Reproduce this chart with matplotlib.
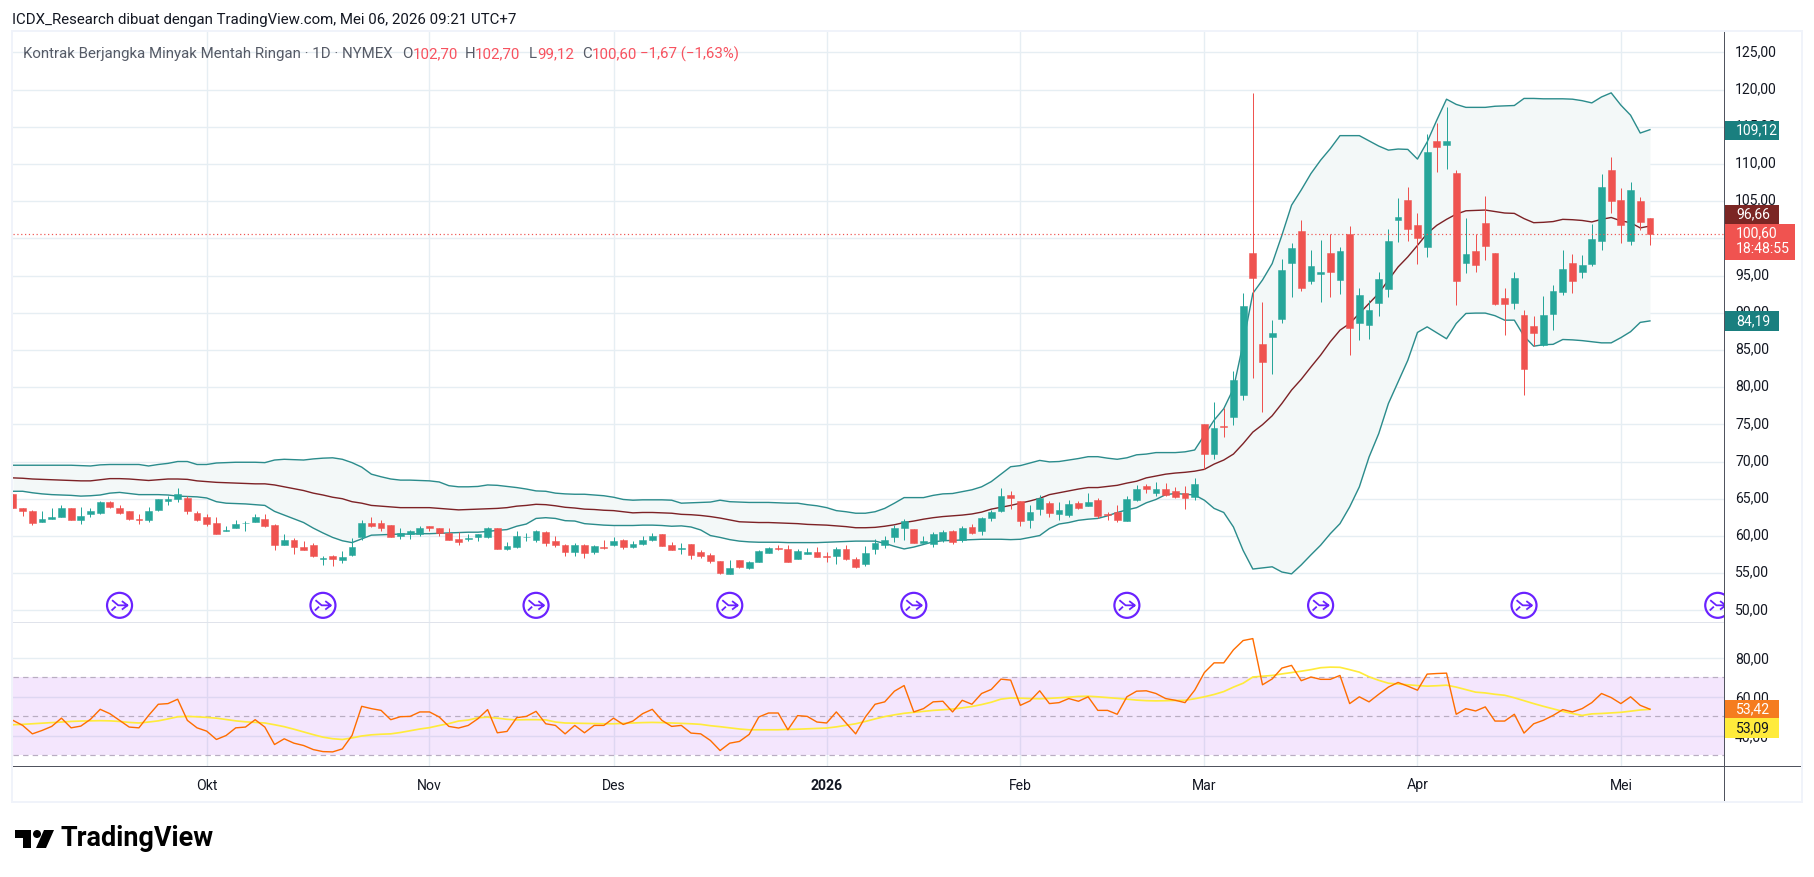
import matplotlib
matplotlib.use("Agg")
import matplotlib.pyplot as plt
import numpy as np
from matplotlib.path import Path
from matplotlib.patches import Rectangle, Polygon, Circle
from matplotlib.transforms import ScaledTranslation

# ---------- data ----------
opens = [65.7,63.8,63.4,61.9,62.3,62.6,63.8,62.2,62.9,63.1,
 64.6,63.7,63.3,62.3,62.2,63.5,64.7,65.0,65.1,63.1,
 62.5,61.8,60.6,61.0,61.7,61.9,62.3,61.5,58.8,59.5,
 58.5,58.8,56.9,57.3,56.8,57.4,59.8,61.8,61.8,61.5,
 60.0,60.3,60.2,61.4,61.0,60.4,59.6,59.6,59.8,59.9,
 61.1,58.3,58.5,59.8,59.4,60.5,59.3,58.8,57.85,58.8,
 57.85,58.5,58.8,59.5,58.5,58.9,59.5,60.2,58.8,58.3,
 58.9,57.85,57.45,56.6,54.9,56.75,55.7,56.5,57.7,58.4,
 58.25,56.9,57.6,57.85,57.3,57.3,58.25,56.9,56.2,58.25,
 58.8,59.8,61.0,60.9,59.0,58.9,59.5,60.65,59.4,61.2,
 60.65,62.4,63.3,65.5,64.7,62.1,63.6,64.4,62.9,62.8,
 64.4,64.0,64.8,62.9,63.2,62.0,64.8,66.7,65.75,66.3,
 66.0,65.75,65.2,75.0,71.0,74.75,76.0,78.9,98.0,85.8,
 86.7,89.1,96.65,101.0,94.25,95.2,98.0,94.4,100.55,88.6,
 88.3,91.3,93.15,102.45,105.1,101.75,98.8,113.05,112.5,108.75,
 96.65,98.25,102.0,98.0,91.95,91.3,89.7,88.2,85.65,89.8,
 92.75,96.65,95.45,96.55,99.6,109.15,105.1,99.6,105.0,102.7]
closes = [63.8,63.4,61.8,62.3,62.6,63.7,62.2,62.7,63.3,64.5,
 63.9,63.1,62.3,62.2,63.4,65.0,65.0,65.7,63.3,62.2,
 61.6,60.3,60.8,61.6,61.8,62.6,61.4,58.8,59.4,58.5,
 58.1,57.3,57.0,56.9,57.2,58.5,61.8,61.4,61.1,59.9,
 60.4,60.6,61.0,61.0,60.4,59.5,59.2,59.7,60.2,61.0,
 58.2,58.6,60.0,59.9,60.6,59.05,58.8,57.85,58.8,57.7,
 58.65,58.4,59.3,58.5,58.9,59.5,60.0,58.65,58.1,58.4,
 57.45,57.3,56.6,55.0,55.7,55.8,56.5,58.0,58.4,58.3,
 56.5,58.0,57.85,57.15,57.2,58.25,56.9,55.8,57.7,59.05,
 59.5,61.1,62.0,59.0,59.3,60.2,60.5,59.2,61.1,60.35,
 62.4,63.2,65.4,65.1,62.0,63.2,65.1,63.05,63.45,64.3,
 63.7,64.55,62.65,62.8,62.1,64.95,66.3,66.3,66.3,65.5,
 65.2,65.05,66.95,71.0,74.5,74.65,80.9,90.9,94.65,83.35,
 87.25,95.7,98.7,93.3,96.25,95.45,95.45,98.25,87.9,92.35,
 90.35,94.5,99.6,102.85,101.2,100.0,111.6,112.25,113.05,94.25,
 97.9,96.4,98.95,91.15,91.15,94.65,82.4,87.25,89.7,92.9,
 95.85,94.25,96.4,99.9,106.85,105.0,101.75,106.45,102.15,100.6]
highs = [65.7,63.8,63.5,63.4,63.7,64.1,63.8,63.9,63.7,64.7,
 64.7,64.2,63.4,63.0,63.9,65.0,65.4,66.5,65.4,63.3,
 62.9,62.6,61.4,62.2,62.0,62.9,62.9,61.6,60.2,59.7,
 59.3,59.0,57.3,57.4,58.0,59.7,62.2,62.6,62.2,61.5,
 61.0,60.8,61.4,61.4,61.0,61.1,60.5,60.3,60.3,61.2,
 61.1,59.2,60.7,60.4,60.8,60.6,60.0,58.9,59.05,58.9,
 58.8,59.5,59.9,59.6,59.3,60.0,60.4,60.3,59.2,59.05,
 58.95,58.1,57.7,56.6,56.75,56.75,56.6,58.1,58.5,58.8,
 58.8,58.25,58.4,58.5,57.85,58.5,58.8,57.15,58.65,59.6,
 60.0,61.5,62.3,60.95,60.0,60.5,60.8,60.8,61.4,61.6,
 62.5,63.5,66.4,66.0,64.7,64.15,65.5,64.7,64.5,64.8,
 64.7,65.75,65.1,63.2,64.1,65.35,66.8,67.0,67.2,67.1,
 66.55,66.7,67.75,75.0,78.0,77.2,82.15,92.6,119.5,91.4,
 89.0,97.2,99.35,102.45,98.4,99.75,100.55,98.8,101.6,93.3,
 91.7,95.45,101.2,105.4,106.85,103.4,114.0,115.5,117.6,109.15,
 102.7,100.55,105.65,98.0,93.3,95.45,90.35,89.55,92.2,93.7,
 98.4,97.85,97.75,101.9,108.6,110.9,106.75,107.55,105.5,102.7]
lows = [63.8,62.7,61.5,61.9,62.3,62.6,62.2,61.6,62.6,62.9,
 63.7,63.0,62.2,61.6,61.9,63.3,64.1,64.6,63.0,62.0,
 61.4,60.3,60.6,61.0,60.7,61.9,61.2,58.1,58.8,57.6,
 58.1,57.2,56.1,56.0,56.4,57.3,59.5,61.2,60.7,59.8,
 59.6,59.6,60.0,60.6,60.0,59.4,58.8,59.3,59.3,59.7,
 58.2,58.1,58.4,59.3,59.2,58.65,58.5,57.3,57.3,57.0,
 57.6,58.25,58.7,58.25,58.4,58.8,59.3,58.65,58.1,57.6,
 56.9,57.0,56.35,54.9,54.9,55.7,55.55,56.5,57.7,58.1,
 56.5,56.9,57.6,57.15,56.5,56.2,56.75,55.7,55.95,57.6,
 58.4,59.2,59.5,59.0,59.0,58.55,59.2,58.9,59.2,60.2,
 60.1,62.0,63.2,63.6,61.3,61.1,62.8,62.5,62.1,62.5,
 63.6,64.0,62.4,62.1,61.85,62.0,64.7,65.75,65.35,65.35,
 65.1,63.6,64.8,69.0,70.3,73.3,74.9,78.25,81.2,76.6,
 81.7,88.6,92.1,92.9,93.85,91.4,92.1,92.5,84.3,86.3,
 86.45,89.5,92.1,99.5,99.6,96.5,97.45,108.9,109.3,91.0,
 95.3,95.45,97.05,91.0,87.0,90.5,78.9,85.5,85.5,87.65,
 92.35,92.6,94.65,96.25,98.4,103.4,99.35,99.1,101.1,99.12]
bb_upper = [69.5,69.5,69.5,69.5,69.5,69.5,69.5,69.45,69.4,69.55,
 69.6,69.6,69.6,69.6,69.4,69.6,69.75,70.0,70.0,69.6,
 69.6,69.8,69.85,69.9,69.9,69.9,69.85,70.2,70.3,70.25,
 70.2,70.35,70.45,70.5,70.3,69.85,69.25,68.3,67.95,67.65,
 67.5,67.5,67.45,67.4,67.25,66.75,66.6,66.6,66.65,66.85,
 66.8,66.65,66.5,66.3,66.05,66.0,65.75,65.65,65.6,65.6,
 65.5,65.4,65.2,64.9,64.8,64.85,64.85,64.85,64.8,64.4,
 64.45,64.5,64.55,64.8,64.6,64.55,64.5,64.5,64.5,64.45,
 64.4,64.4,64.2,64.05,63.8,63.4,63.25,63.05,63.05,63.25,
 63.7,64.4,65.15,65.15,65.15,65.45,65.65,65.7,65.95,66.2,
 66.6,67.3,68.3,69.3,69.45,69.8,70.15,69.95,70.0,70.2,
 70.4,70.65,70.65,70.45,70.3,70.5,70.9,71.0,71.2,71.2,
 71.2,71.3,71.55,73.55,75.55,77.1,79.8,85.85,92.6,94.4,
 96.6,100.4,104.45,106.5,108.7,110.5,112.05,113.8,113.8,113.8,
 113.1,112.4,111.85,112.0,111.95,110.65,112.95,115.9,118.7,118.0,
 117.6,117.6,117.6,117.75,117.8,117.85,118.8,118.8,118.75,118.75,
 118.75,118.7,118.5,118.2,119.0,119.55,117.9,116.55,114.15,114.6]
bb_basis = [67.8,67.75,67.65,67.6,67.55,67.5,67.45,67.4,67.4,67.55,
 67.7,67.7,67.65,67.55,67.45,67.55,67.65,67.65,67.6,67.4,
 67.3,67.2,67.15,67.1,67.05,67.0,67.0,66.85,66.6,66.35,
 66.1,65.75,65.5,65.2,65.0,64.6,64.4,64.1,64.0,63.9,
 63.8,63.8,63.8,63.8,63.7,63.6,63.5,63.55,63.6,63.65,
 63.7,63.8,64.0,64.1,64.25,64.2,64.05,63.85,63.75,63.6,
 63.55,63.45,63.4,63.25,63.1,63.15,63.15,63.1,63.05,62.9,
 62.85,62.75,62.6,62.4,62.15,61.9,61.85,61.8,61.8,61.75,
 61.7,61.65,61.55,61.5,61.45,61.35,61.25,61.1,61.1,61.15,
 61.3,61.5,61.8,62.0,62.25,62.45,62.6,62.7,62.8,62.95,
 63.2,63.6,63.85,64.1,64.4,64.7,65.05,65.55,65.8,66.05,
 66.3,66.5,66.5,66.65,66.8,67.1,67.35,67.8,68.05,68.3,
 68.45,68.55,68.7,68.95,69.65,70.2,71.0,72.4,73.95,74.95,
 76.15,77.8,79.6,81.05,82.7,84.3,86.1,87.65,88.55,89.9,
 91.25,92.6,94.4,96.15,97.5,99.05,100.65,101.75,102.55,103.25,
 103.7,103.75,103.8,103.6,103.4,103.35,102.65,102.1,102.15,102.25,
 102.55,102.5,102.4,102.2,102.55,102.8,102.35,102.1,101.4,101.65]
bb_lower = [66.0,66.0,65.8,65.65,65.55,65.5,65.45,65.35,65.4,65.5,
 65.75,65.85,65.7,65.55,65.55,65.55,65.5,65.35,65.3,65.25,
 65.1,64.6,64.4,64.35,64.3,64.2,64.1,63.3,62.8,62.3,
 61.8,61.05,60.4,59.8,59.35,59.1,59.6,60.1,60.15,60.2,
 60.25,60.25,60.3,60.3,60.35,60.4,60.45,60.5,60.5,60.6,
 60.75,60.85,61.3,61.6,62.35,62.45,62.35,62.05,62.0,61.65,
 61.55,61.45,61.4,61.4,61.4,61.45,61.45,61.4,61.3,61.35,
 61.2,60.8,60.05,59.8,59.5,59.3,59.2,59.15,59.15,59.15,
 59.1,59.1,59.1,59.1,59.15,59.2,59.25,59.3,59.3,59.3,
 59.0,58.6,58.25,58.5,58.85,59.2,59.35,59.4,59.45,59.5,
 59.55,59.55,59.55,59.5,59.55,59.8,60.05,61.0,61.6,61.8,
 62.1,62.25,62.35,62.7,63.15,63.5,63.8,64.45,64.9,65.55,
 65.7,65.6,65.5,64.8,63.7,63.15,61.2,58.05,55.55,55.7,
 55.85,55.15,54.9,56.1,57.45,58.75,60.3,61.65,63.9,66.6,
 70.6,73.75,77.8,80.7,83.6,87.35,88.1,87.3,86.5,88.55,
 89.9,89.95,89.95,89.6,89.0,89.0,86.85,85.5,85.7,85.75,
 86.4,86.35,86.25,86.1,85.95,85.95,86.65,87.45,88.7,88.9]
rsi = [47.85,45.25,40.9,42.65,44.75,49,44,44.9,48.4,53.55,
 51.3,47.85,44.4,44,50.4,56.15,56.5,58.75,47.85,44,
 42.3,38,40.05,44,44.4,48.2,44.4,35.4,38.35,36.1,
 34.9,32.8,31.75,31.6,33.15,40.05,55.1,53.9,53,48.2,
 49.75,49.9,52.2,52.2,49.6,44.75,43.9,45.25,48.7,53.4,
 41.45,42.15,49.25,49.9,52.5,46.1,45.25,40.9,45.25,41.45,
 45.25,45.25,49,45.75,47.5,51.3,53.55,47.85,44.75,45.25,
 41.3,40.9,37.5,32.3,36.1,37,40.6,49.6,51.65,51.65,
 43,50.3,49.9,47,46.5,52.2,46.5,40.9,49.6,56.15,
 57.4,62.9,65.8,52.2,53.9,57.4,57.7,52.2,58.2,56.15,
 61.7,63.8,69.1,68.6,55.6,57.9,63.1,56.5,57,59.1,
 57.7,60,53,53,51,60,62.9,63.1,61.7,59.1,
 58.2,57,63.4,72.5,77.5,77.5,84.2,89,90,66.2,
 69.2,74.8,76.2,68.3,70.2,69,69,71,56.5,60,
 57.4,61.3,65,67.4,65.5,63.4,71.7,72,72.2,51,
 53.9,52.7,54.8,47.5,47.5,51,41.3,46.1,47.9,50.4,
 53.4,52.2,53.9,57,61.7,59.6,56.5,60,55.6,53.6]
rsi_ma = [45.6,45.8,46.1,46.4,46.7,47,47.3,47.5,47.6,47.7,
 47.6,47.3,46.8,46.5,47,47.6,48.6,49.7,49.9,49.7,
 49.4,49,48.3,47.6,47.1,46.8,46.5,45.6,44.6,43.3,
 41.9,40.5,39.2,38.4,38,38.8,39.8,40.4,40.7,40.9,
 41.6,42.5,43.4,44.1,45.2,46.2,47.5,48,49.2,49.5,
 49,48.4,48.1,48.2,48.2,48.1,47,46.5,46.4,46.3,
 46.2,46.1,46.1,46.3,46.5,46.7,46.8,46.7,46.5,46.3,
 46.1,45.8,45.1,44.6,44,43.4,43,43,43,43,
 43.2,43.3,43.5,43.7,43.9,44.5,45.3,46.1,47.3,48.6,
 49.8,50.7,51.5,52,52.5,53,53.3,53.7,54.3,55,
 56,57.2,58.8,59.4,59.3,59.1,59,59.2,59.5,59.8,
 60.2,60.3,60,59.6,59.2,58.8,58.3,58,57.9,58,
 58.1,58.2,59,60,61.2,62.7,65,67,70.2,70.6,
 71,71.8,72.5,73.2,74,75,75.3,75.2,74,72.7,
 70.3,68.5,67,66.6,66.2,65.8,65.5,65.7,66,65,
 63.7,62.4,62,61.3,60.8,59.5,58,56.5,55.1,53.8,
 52.5,51.4,50.4,51.2,51.4,51.7,52,52.6,53.2,53.55]
month_idx = [20, 43, 62, 84, 104, 123, 145, 166]
month_labels = ["Okt", "Nov", "Des", "2026", "Feb", "Mar", "Apr", "Mei"]
event_idx = [11, 32, 54, 74, 93, 115, 135, 156, 176]
event_level = 50.67
price_ticks = [50, 55, 60, 65, 70, 75, 80, 85, 90, 95, 100, 105, 110, 115, 120, 125]
rsi_ticks = [40, 60, 80]
for a in (opens, closes, highs, lows, bb_upper, bb_basis, bb_lower, rsi, rsi_ma):
    assert len(a) == 170, len(a)

# ---------- layout helpers ----------
W, H = 1814, 877
plt.rcParams["font.family"] = ["Roboto", "DejaVu Sans"]
fig = plt.figure(figsize=(W / 100, H / 100), dpi=100, facecolor="white")
PX = 0.72  # points per pixel at dpi 100

def box(x0, y0, x1, y1):
    return [x0 / W, 1 - y1 / H, (x1 - x0) / W, (y1 - y0) / H]

def frect(x0, y0, x1, y1, color, z=1, **kw):
    r = Rectangle((x0 / W, 1 - y1 / H), (x1 - x0) / W, (y1 - y0) / H,
                  transform=fig.transFigure, facecolor=color, edgecolor="none", zorder=z, **kw)
    fig.add_artist(r)
    return r

def ftext(x, y, s, **kw):
    kw.setdefault("va", "center")
    kw.setdefault("ha", "left")
    fig.text(x / W, 1 - y / H, s, **kw)

L, R, T, SEP, BOT, OUTR, OUTB = 13, 1724, 32, 622, 766, 1801, 801
GRID = "#e6eef3"
TXT = "#131722"
UP, DOWN = "#26a69a", "#ef5350"
BAND = "#2b8c8c"
BASIS = "#7d2226"
PURPLE = "#6a22ff"
FS = 14 * PX

xlim = (0, (R - L) / 9.686)
x = np.arange(170)
lift = ScaledTranslation(0, 2 / 100, fig.dpi_scale_trans)

# ---------- price pane ----------
ax = fig.add_axes(box(L, T, R, SEP), facecolor="white")
ax.set_xlim(*xlim)
ax.set_ylim(48.43, 127.73)
ax.set_yticks(price_ticks)
ax.set_yticklabels([f"{v:.2f}".replace(".", ",") for v in price_ticks], fontsize=FS, color=TXT)
ax.yaxis.tick_right()
ax.set_xticks(month_idx)
ax.tick_params(axis="y", length=0, pad=8)
ax.tick_params(axis="x", length=0, labelbottom=False)
for lab in ax.get_yticklabels():
    lab.set_transform(lab.get_transform() + lift)
ax.grid(True, color=GRID, lw=1.4 * PX)
ax.set_axisbelow(True)
for s in ax.spines.values():
    s.set_visible(False)

ax.fill_between(x, bb_lower, bb_upper, color="#f3f8f8", lw=0, zorder=1)
ax.plot(x, bb_upper, color=BAND, lw=1.4 * PX, zorder=2)
ax.plot(x, bb_lower, color=BAND, lw=1.4 * PX, zorder=2)
ax.plot(x, bb_basis, color=BASIS, lw=1.4 * PX, zorder=2)

o, c, h, l = map(np.array, (opens, closes, highs, lows))
cols = np.where(c >= o, UP, DOWN)
ax.vlines(x, l, h, colors=cols, lw=1.0 * PX, zorder=3)
ax.bar(x, np.abs(c - o), bottom=np.minimum(o, c), width=0.70, color=cols,
       edgecolor=cols, linewidth=0.5 * PX, zorder=4)
ax.axhline(closes[-1], color=DOWN, lw=1.2 * PX, ls=(0, (1, 2.2)), zorder=5)

# session-break event markers
ax.scatter(event_idx, [event_level] * len(event_idx), s=(25.0 * PX) ** 2, marker="o",
           facecolors="none", edgecolors=PURPLE, linewidths=2.2 * PX, zorder=6)
arrow_path = Path(
    [(-0.58, 0.40), (-0.10, 0.0), (0.62, 0.0), (0.18, 0.33), (0.62, 0.0), (0.18, -0.33), (-0.62, -0.40), (-0.30, -0.10)],
    [Path.MOVETO, Path.LINETO, Path.LINETO, Path.MOVETO, Path.LINETO, Path.LINETO, Path.MOVETO, Path.LINETO])
ax.scatter(event_idx, [event_level] * len(event_idx), s=(16.0 * PX) ** 2, marker=arrow_path,
           facecolors="none", edgecolors=PURPLE, linewidths=1.8 * PX, zorder=6)

# ---------- RSI pane ----------
ar = fig.add_axes(box(L, SEP, R, BOT), facecolor="white")
ar.set_xlim(*xlim)
ar.set_ylim(30 - (BOT - 755) / 1.94, 98.56)
ar.set_yticks(rsi_ticks)
ar.set_yticklabels([f"{v:.2f}".replace(".", ",") for v in rsi_ticks], fontsize=FS, color=TXT)
ar.yaxis.tick_right()
ar.set_xticks(month_idx)
ar.set_xticklabels(month_labels, fontsize=FS, color=TXT)
ar.get_xticklabels()[3].set_fontweight("bold")
ar.tick_params(axis="y", length=0, pad=8)
ar.tick_params(axis="x", length=0, pad=9)
ar.grid(True, color=GRID, lw=1.4 * PX)
ar.set_axisbelow(True)
for s in ar.spines.values():
    s.set_visible(False)
ar.axhspan(30, 70, color="#b658f2", alpha=0.15, lw=0, zorder=1)
for lev in (70, 50, 30):
    ar.axhline(lev, color="#b9adc2", lw=1.2 * PX, ls=(0, (4.5, 3.5)), zorder=2)
ar.plot(x, rsi_ma, color="#ffeb3b", lw=1.7 * PX, zorder=3)
ar.plot(x, rsi, color="#ff6d00", lw=1.4 * PX, zorder=4)

# ---------- frame ----------
frect(L - 2, T - 2, OUTR + 1, T, "#f0f3fa", z=5)
frect(L - 2, T - 2, L, OUTB + 1, "#f0f3fa", z=5)
frect(OUTR, T - 2, OUTR + 2, OUTB + 1, "#f0f3fa", z=5)
frect(L - 2, OUTB, OUTR + 2, OUTB + 2, "#f0f3fa", z=5)
frect(L, SEP - 0.5, R, SEP + 1, "#e0e3eb", z=5)
frect(L, BOT - 0.5, OUTR, BOT + 1, "#50535e", z=5)
frect(R - 0.5, T, R + 1, OUTB, "#50535e", z=5)

# ---------- header ----------
ftext(12.5, 20, "ICDX_Research dibuat dengan TradingView.com, Mei 06, 2026 09:21 UTC+7",
      fontsize=15 * PX, color=TXT)
GREY, RED = "#555a66", "#f7525f"
ftext(23, 54, "Kontrak Berjangka Minyak Mentah Ringan \u00b7 1D \u00b7 NYMEX", fontsize=15 * PX, color=GREY, zorder=8)
for px, s, col in [(402, "O", GREY), (412.5, "102,70", RED), (465, "H", GREY), (475, "102,70", RED),
                   (529, "L", GREY), (537.5, "99,12", RED), (582, "C", GREY), (591.5, "100,60", RED),
                   (640, "\u22121,67 (\u22121,63%)", RED)]:
    ftext(px, 54, s, fontsize=15 * PX, color=col, zorder=8)

# ---------- right-axis value tags ----------
def tag(y0, y1, x1, s, bg, fg="white"):
    frect(R + 1, y0, x1, y1, bg, z=6)
    ftext(R + 12, (y0 + y1) / 2, s, fontsize=FS, color=fg, zorder=7)

tag(121, 140, 1779, "109,12", "#1a7f7f")
tag(205, 224, 1779, "96,66", "#7b2624")
tag(311, 331, 1779, "84,19", "#1a7f7f")
frect(R + 1, 224, 1795, 260, "#f05350", z=6)
ftext(R + 12, 233, "100,60", fontsize=FS, color="white", zorder=7)
ftext(R + 12, 249, "18:48:55", fontsize=FS, color="white", zorder=7)
tag(700, 718, 1779, "53,42", "#f57c1f")
tag(718, 738, 1779, "53,09", "#ffeb3b", fg=TXT)

# ---------- TradingView logo ----------
frect(15, 830, 31, 838, "black", z=6)
frect(23, 830, 31, 848, "black", z=6)
c_ax = fig.add_axes([0, 0, 1, 1], facecolor="none")
c_ax.set_xlim(0, W); c_ax.set_ylim(H, 0); c_ax.axis("off")
c_ax.add_patch(Circle((37, 834), 4, color="black", lw=0))
c_ax.add_patch(Polygon([(44, 830), (54, 830), (46, 848), (36, 848)], closed=True, color="black", lw=0))
ftext(61, 839, "TradingView", fontsize=27 * PX, fontweight="bold", color="black", zorder=8)

fig.savefig("out.png", dpi=100, facecolor="white")
